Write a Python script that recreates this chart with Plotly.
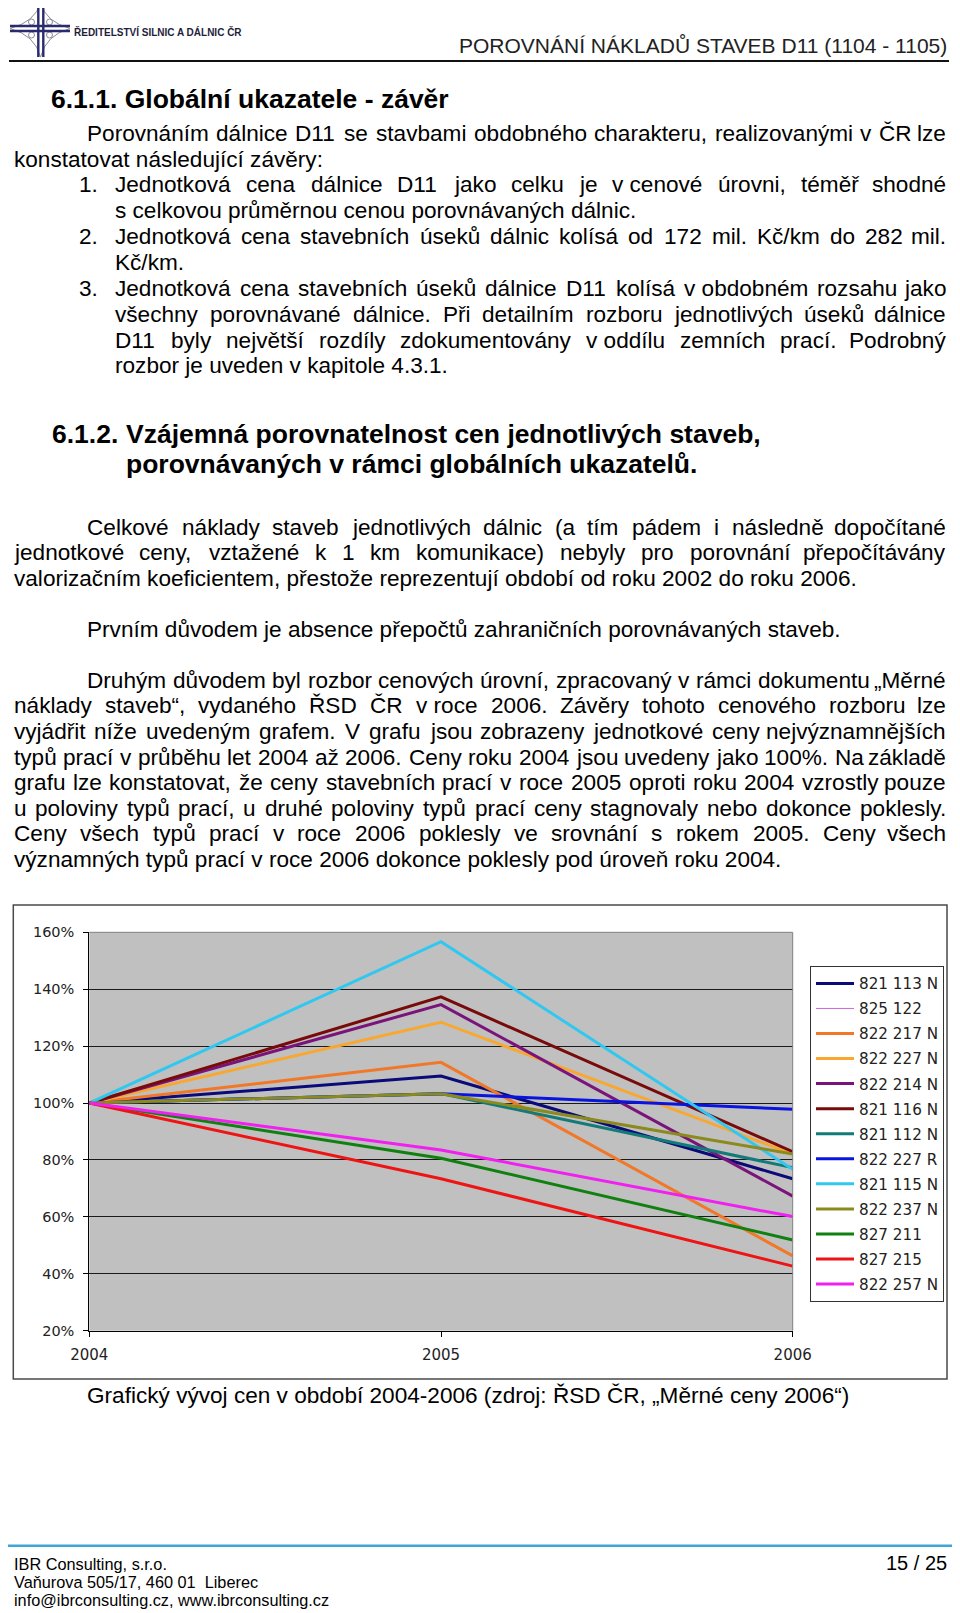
import unicodedata
import plotly.graph_objects as go

# page is photographed with the browser's default 8px body margin,
# so the figure is made 8px smaller and all page coordinates shifted by 8px
OFF = 8
W, H = 960 - OFF, 1613 - OFF

# ---------------- chart data ----------------
years = [2004, 2005, 2006]
series_names = ["821 113 N", "825 122", "822 217 N", "822 227 N", "822 214 N",
                "821 116 N", "821 112 N", "822 227 R", "821 115 N", "822 237 N",
                "827 211", "827 215", "822 257 N"]
v_821_113N = [100, 109.5, 73.4]
v_825_122 = [None, None, None]
v_822_217N = [100, 114.3, 46.3]
v_822_227N = [100, 128.4, 82.1]
v_822_214N = [100, 134.6, 67.3]
v_821_116N = [100, 137.3, 82.9]
v_821_112N = [100, 103.3, 77.3]
v_822_227R = [100, 103.3, 97.8]
v_821_115N = [100, 156.7, 76.7]
v_822_237N = [100, 103.3, 82.1]
v_827_211 = [100, 80.6, 51.9]
v_827_215 = [100, 73.4, 42.7]
v_822_257N = [100, 83.5, 60.1]
series_values = [v_821_113N, v_825_122, v_822_217N, v_822_227N, v_822_214N,
                 v_821_116N, v_821_112N, v_822_227R, v_821_115N, v_822_237N,
                 v_827_211, v_827_215, v_822_257N]
series_colors = ["#0a0a78", "#cc66dd", "#f07828", "#f8a830", "#7a147a",
                 "#780a0a", "#137a7a", "#0a14e0", "#30c8f0", "#8a8a1e",
                 "#108010", "#ee1414", "#f020f0"]
series_widths = [3, 1, 3, 3, 3, 3, 3, 3, 3, 3, 3, 3, 3]
y_ticks = [20, 40, 60, 80, 100, 120, 140, 160]
y_tick_labels = ["20%", "40%", "60%", "80%", "100%", "120%", "140%", "160%"]
x_tick_labels = ["2004", "2005", "2006"]

# ---------------- page texts ----------------
header_org = "ŘEDITELSTVÍ SILNIC A DÁLNIC ČR"
header_title = "POROVNÁNÍ NÁKLADŮ STAVEB D11 (1104 - 1105)"
heading1 = "6.1.1. Globální ukazatele - závěr"
heading2_num = "6.1.2."
heading2_l1 = "Vzájemná porovnatelnost cen jednotlivých staveb,"
heading2_l2 = "porovnávaných v rámci globálních ukazatelů."
NB = "\u00a0"
# (text, x_start, baseline, justified)
body_lines = [
    ("Porovnáním dálnice D11 se stavbami obdobného charakteru, realizovanými v ČR lze", 86, 141.7, True),
    ("konstatovat následující závěry:", 12.7, 167.3, False),
    ("Jednotková cena dálnice D11 jako celku je v" + NB + "cenové úrovni, téměř shodné", 114.3, 192.9, True),
    ("s celkovou průměrnou cenou porovnávaných dálnic.", 114.3, 218.5, False),
    ("Jednotková cena stavebních úseků dálnic kolísá od 172 mil. Kč/km do 282 mil.", 114.3, 244.5, True),
    ("Kč/km.", 114.3, 270.4, False),
    ("Jednotková cena stavebních úseků dálnice D11 kolísá v" + NB + "obdobném rozsahu jako", 114.3, 296.6, True),
    ("všechny porovnávané dálnice. Při detailním rozboru jednotlivých úseků dálnice", 114.3, 322.3, True),
    ("D11 byly největší rozdíly zdokumentovány v" + NB + "oddílu zemních prací. Podrobný", 114.3, 348.0, True),
    ("rozbor je uveden v kapitole 4.3.1.", 114.3, 373.6, False),
    ("Celkové náklady staveb jednotlivých dálnic (a tím pádem i následně dopočítané", 86, 535.0, True),
    ("jednotkové ceny, vztažené k 1 km komunikace) nebyly pro porovnání přepočítávány", 12.7, 560.5, True),
    ("valorizačním koeficientem, přestože reprezentují období od roku 2002 do roku 2006.", 12.7, 586.0, False),
    ("Prvním důvodem je absence přepočtů zahraničních porovnávaných staveb.", 86, 637.3, False),
    ("Druhým důvodem byl rozbor cenových úrovní, zpracovaný v rámci dokumentu „Měrné", 86, 688.3, True),
    ("náklady staveb“, vydaného ŘSD ČR v" + NB + "roce 2006. Závěry tohoto cenového rozboru lze", 12.7, 713.8, True),
    ("vyjádřit níže uvedeným grafem. V grafu jsou zobrazeny jednotkové ceny nejvýznamnějších", 12.7, 739.4, True),
    ("typů prací v průběhu let 2004 až 2006. Ceny roku 2004 jsou uvedeny jako 100%. Na základě", 12.7, 765.0, True),
    ("grafu lze konstatovat, že ceny stavebních prací v roce 2005 oproti roku 2004 vzrostly pouze", 12.7, 790.6, True),
    ("u poloviny typů prací, u druhé poloviny typů prací ceny stagnovaly nebo dokonce poklesly.", 12.7, 816.1, True),
    ("Ceny všech typů prací v roce 2006 poklesly ve srovnání s rokem 2005. Ceny všech", 12.7, 841.7, True),
    ("významných typů prací v roce 2006 dokonce poklesly pod úroveň roku 2004.", 12.7, 867.3, False),
]
list_numbers = [("1.", 77.7, 192.9), ("2.", 77.7, 244.5), ("3.", 77.7, 296.6)]
caption = "Grafický vývoj cen v období 2004-2006 (zdroj: ŘSD ČR, „Měrné ceny 2006“)"
footer_lines = ["IBR Consulting, s.r.o.", "Vaňurova 505/17, 460 01  Liberec",
                "info@ibrconsulting.cz, www.ibrconsulting.cz"]
page_no = "15 / 25"

# ---------------- helpers ----------------
BODY_FONT = "Liberation Sans, Arial, Helvetica, sans-serif"
CHART_FONT = "DejaVu Sans, Verdana, sans-serif"
FS = 22.6
RIGHT = 947.0

_ARIAL = {" ": 278, "!": 278, '"': 355, "%": 889, "'": 191, "(": 333, ")": 333,
          ",": 278, "-": 333, ".": 278, "/": 278, ":": 278, ";": 278, "@": 1015,
          "A": 667, "B": 667, "C": 722, "D": 722, "E": 667, "F": 611, "G": 778,
          "H": 722, "I": 278, "J": 500, "K": 667, "L": 556, "M": 833, "N": 722,
          "O": 778, "P": 667, "Q": 778, "R": 722, "S": 667, "T": 611, "U": 722,
          "V": 667, "W": 944, "X": 667, "Y": 667, "Z": 611,
          "a": 556, "b": 556, "c": 500, "d": 556, "e": 556, "f": 278, "g": 556,
          "h": 556, "i": 222, "j": 222, "k": 500, "l": 222, "m": 833, "n": 556,
          "o": 556, "p": 556, "q": 556, "r": 333, "s": 500, "t": 278, "u": 556,
          "v": 500, "w": 722, "x": 500, "y": 500, "z": 500,
          "„": 333, "“": 333, "\u00a0": 278}


def char_w(ch):
    if ch in _ARIAL:
        return _ARIAL[ch]
    if ch.isdigit():
        return 556
    if ch in "íì":
        return 278
    base = unicodedata.normalize("NFD", ch)[0]
    return _ARIAL.get(base, 556)


def text_w(s, fs):
    return sum(char_w(c) for c in s) * fs / 1000.0


def px(x):
    return (x - OFF) / W


def py(y):
    return 1 - (y - OFF) / H


annotations = []


def put(text, x, baseline, fs, font=BODY_FONT, color="#000000", xanchor="left", bold=False):
    t = "<b>" + text + "</b>" if bold else text
    annotations.append(dict(
        text=t, x=px(x), y=py(baseline - 0.35 * fs), xref="paper", yref="paper",
        xanchor=xanchor, yanchor="middle", showarrow=False, borderpad=0,
        font=dict(family=font, size=fs, color=color)))


def put_line(text, x0, baseline, justify):
    if not justify:
        put(text, x0, baseline, FS)
        return
    words = text.split(" ")
    widths = [text_w(w, FS) for w in words]
    gap = (RIGHT - x0 - sum(widths)) / (len(words) - 1)
    x = x0
    for i, w in enumerate(words):
        if i == len(words) - 1:
            put(w, RIGHT, baseline, FS, xanchor="right")
        else:
            put(w, x, baseline, FS)
        x += widths[i] + gap


# header
put(header_org, 72.7, 35.7, 10, color="#1e1e3c", bold=True)
put(header_title, 948, 52.5, 21, color="#222222", xanchor="right")
# headings
put(heading1, 50, 108.3, 26.5, bold=True)
put(heading2_num, 51, 443.3, 26.5, bold=True)
put(heading2_l1, 125, 443.3, 26.5, bold=True)
put(heading2_l2, 125, 473.5, 26.5, bold=True)
# body
for num, x, b in list_numbers:
    put(num, x, b, FS)
for text, x0, b, j in body_lines:
    put_line(text, x0, b, j)
# caption
put(caption, 86, 1403.3, FS)
# footer
for i, line in enumerate(footer_lines):
    put(line, 12.7, 1569.3 + i * 18.0, 16.3)
put(page_no, 948, 1569.5, 20, xanchor="right")

# ---------------- shapes ----------------
shapes = []


def P(x, y):
    return f"{px(x):.5f},{py(y):.5f}"


def hline(x0, x1, y, color, width):
    shapes.append(dict(type="line", xref="paper", yref="paper", x0=px(x0), x1=px(x1),
                       y0=py(y), y1=py(y), line=dict(color=color, width=width)))


def vline(x, y0, y1, color, width):
    shapes.append(dict(type="line", xref="paper", yref="paper", x0=px(x), x1=px(x),
                       y0=py(y0), y1=py(y1), line=dict(color=color, width=width)))


# header & footer rules
hline(9, 949, 61, "#111111", 2)
hline(8, 954, 1545.7, "#3ca6d8", 2.5)

# logo
shapes.append(dict(type="path", xref="paper", yref="paper",
                   path=f"M{P(40.5,3)} Q{P(46,22)} {P(70,28.5)} Q{P(46,35)} {P(40.5,57)} "
                        f"Q{P(35,35)} {P(10,28.5)} Q{P(35,22)} {P(40.5,3)} Z",
                   line=dict(color="#8a8a9a", width=1)))
for cx, cy in [(31.5, 22), (49.5, 22), (31.5, 35), (49.5, 35)]:
    shapes.append(dict(type="circle", xref="paper", yref="paper",
                       x0=px(cx - 3), x1=px(cx + 3), y0=py(cy - 3), y1=py(cy + 3),
                       line=dict(color="#8a8a9a", width=1)))
for xx in (38.3, 43.3):
    vline(xx, 3, 57, "#2a2a6e", 2.4)
for yy in (26.0, 31.0):
    hline(10, 70, yy, "#2a2a6e", 2.4)

# chart frame
shapes.append(dict(type="rect", xref="paper", yref="paper", x0=px(13.3), x1=px(947),
                   y0=py(1379), y1=py(905), line=dict(color="#4a4a4a", width=1.5),
                   layer="below"))
PL, PR, PT, PB = 89.3, 792.7, 932.3, 1330.7
hline(PL, PR, PT, "#808080", 1)
vline(PR, PT, PB, "#808080", 1)

# ---------------- figure ----------------
fig = go.Figure()
for name, vals, col, lw in zip(series_names, series_values, series_colors, series_widths):
    fig.add_trace(go.Scatter(x=years, y=vals, name=name, mode="lines",
                             line=dict(color=col, width=lw), legendgroup=name,
                             hoverinfo="skip"))

fig.update_layout(
    width=W, height=H, margin=dict(l=0, r=0, t=0, b=0, autoexpand=False),
    paper_bgcolor="white", plot_bgcolor="#c0c0c0",
    xaxis=dict(domain=[px(PL), px(PR)], range=[2004, 2006], tickvals=years,
               ticktext=x_tick_labels, ticks="outside", ticklen=5, tickcolor="#000",
               showline=True, linecolor="#000", linewidth=1, showgrid=False,
               zeroline=False, ticklabelstandoff=5, automargin=False,
               tickfont=dict(family=CHART_FONT, size=15, color="#222")),
    yaxis=dict(domain=[py(PB), py(PT)], range=[20, 160], tickvals=y_ticks,
               ticktext=y_tick_labels, ticks="outside", ticklen=5, tickcolor="#000",
               showline=True, linecolor="#000", linewidth=1, showgrid=True,
               gridcolor="#1a1a1a", gridwidth=1, zeroline=False, ticklabelstandoff=6,
               automargin=False,
               tickfont=dict(family=CHART_FONT, size=14.5, color="#222")),
    showlegend=True,
    legend=dict(x=px(810), y=py(966), xanchor="left", yanchor="top",
                bgcolor="white", bordercolor="#333", borderwidth=1,
                traceorder="grouped", tracegroupgap=2.3, itemwidth=38,
                font=dict(family=CHART_FONT, size=15.2, color="#222")),
    annotations=annotations, shapes=shapes,
)

fig.write_html("out.html")
